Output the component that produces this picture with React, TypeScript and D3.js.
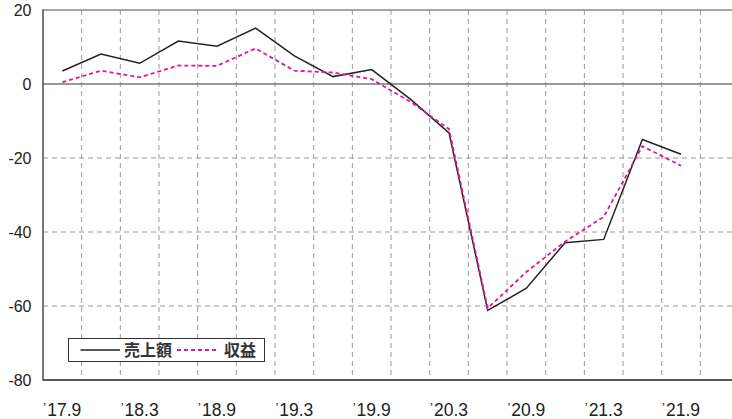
import React from "react";
import * as d3 from "d3";

const categories = ["17.9","17.12","18.3","18.6","18.9","18.12","19.3","19.6","19.9","19.12","20.3","20.6","20.9","20.12","21.3","21.6","21.9","21.12"];
const tickLabels = ["17.9","18.3","18.9","19.3","19.9","20.3","20.9","21.3","21.9"];
const sales = [3.5, 8.1, 5.6, 11.6, 10.2, 15.1, 7.6, 2.0, 3.9, -4.1, -13.2, -61.2, -55.2, -42.9, -42.0, -15.0, -19.0];
const profit = [0.5, 3.6, 1.8, 5.0, 4.9, 9.6, 3.6, 3.1, 1.3, -4.8, -12.2, -60.6, -50.8, -42.6, -35.9, -16.8, -22.1];
const yTicks = [20, 0, -20, -40, -60, -80];
const seriesNames = ["売上額", "収益"];

const W = 732, H = 419;
const left = 43, top = 10, bottom = 380;
const band = 38.67;

export default function App() {
  const x = d3.scaleBand<string>().domain(categories).range([left, left + band * categories.length]).padding(0);
  const y = d3.scaleLinear().domain([-80, 20]).range([bottom, top]);
  const cx = (i: number) => (x(categories[i]) as number) + x.bandwidth() / 2;
  const line = d3.line<number>().x((_, i) => cx(i)).y((d) => y(d));
  const numFont = "'Liberation Sans', Arial, Helvetica, sans-serif";
  const cjkFont = "'Noto Sans CJK JP', 'Noto Sans', sans-serif";

  return (
    <svg width={W} height={H} style={{ position: "absolute", left: 0, top: 0, background: "#fff" }}>
      {categories.slice(1).map((c) => (
        <line key={"v" + c} x1={x(c) as number} x2={x(c) as number} y1={top} y2={bottom}
          stroke="#999" strokeWidth={1} strokeDasharray="5,4" />
      ))}
      {[-20, -40, -60].map((t) => (
        <line key={"h" + t} x1={left} x2={W} y1={y(t)} y2={y(t)} stroke="#999" strokeWidth={1} strokeDasharray="5,4" />
      ))}
      <line x1={left} x2={W} y1={y(20)} y2={y(20)} stroke="#888" strokeWidth={1.6} />
      <line x1={left} x2={W} y1={y(0)} y2={y(0)} stroke="#777" strokeWidth={1.6} />
      <line x1={left} x2={W} y1={y(-80)} y2={y(-80)} stroke="#222" strokeWidth={1.6} />
      <line x1={left} x2={left} y1={top - 0.8} y2={bottom + 0.8} stroke="#555" strokeWidth={1.6} />

      {yTicks.map((t) => (
        <text key={"yl" + t} x={31.5} y={y(t) + 6} textAnchor="end" fontFamily={numFont} fontSize={16} fill="#222">
          {t}
        </text>
      ))}
      {tickLabels.map((l) => {
        const c = (x(l) as number) + x.bandwidth() / 2;
        return (
          <text key={"xl" + l} x={c} y={415.5} textAnchor="middle" fontFamily={numFont} fontSize={17.5} fill="#222">
            <tspan fontSize={13} dy={-4}>{"’"}</tspan>
            <tspan dy={4} dx={1}>{l}</tspan>
          </text>
        );
      })}

      <path d={line(sales) as string} fill="none" stroke="#222" strokeWidth={1.5} strokeLinejoin="miter" />
      <path d={line(profit) as string} fill="none" stroke="#e8168c" strokeWidth={1.8} strokeDasharray="4,3" />

      <rect x={68.5} y={338.5} width={196} height={23} fill="#fff" stroke="#333" strokeWidth={1} />
      <line x1={80.5} x2={120} y1={350} y2={350} stroke="#222" strokeWidth={1.5} />
      <text x={124} y={356} fontFamily={cjkFont} fontSize={16} fontWeight={700} fill="#333">{seriesNames[0]}</text>
      <line x1={177} x2={217} y1={350} y2={350} stroke="#e8168c" strokeWidth={1.8} strokeDasharray="4,3" />
      <text x={224} y={356} fontFamily={cjkFont} fontSize={16} fontWeight={700} fill="#333">{seriesNames[1]}</text>
    </svg>
  );
}
